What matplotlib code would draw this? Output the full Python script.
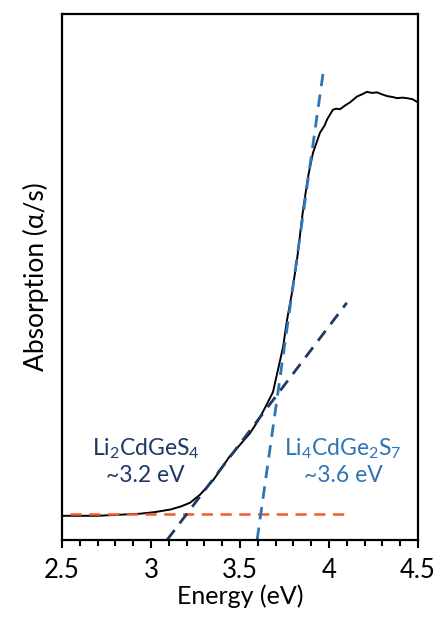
import matplotlib
matplotlib.use("Agg")
import matplotlib.pyplot as plt
import numpy as np

# Measured absorption curve (energy in eV, absorption in arbitrary units)
energy = [2.50, 2.70, 2.94, 3.02, 3.11, 3.17, 3.22, 3.275, 3.35, 3.44,
          3.50, 3.556, 3.60, 3.64, 3.685, 3.713, 3.742, 3.764, 3.792, 3.82,
          3.854, 3.882, 3.91, 3.949, 3.975, 3.99, 4.022, 4.04, 4.062, 4.09,
          4.118, 4.157, 4.19, 4.213, 4.24, 4.27, 4.30, 4.326, 4.36, 4.382,
          4.41, 4.438, 4.47, 4.494, 4.50]
absorption = [0.046, 0.046, 0.050, 0.053, 0.058, 0.064, 0.071, 0.086, 0.114, 0.158,
              0.181, 0.203, 0.226, 0.251, 0.281, 0.323, 0.367, 0.418, 0.470, 0.532,
              0.627, 0.690, 0.736, 0.774, 0.788, 0.800, 0.818, 0.820, 0.819, 0.826,
              0.832, 0.843, 0.848, 0.852, 0.850, 0.851, 0.847, 0.844, 0.842, 0.840,
              0.841, 0.840, 0.838, 0.833, 0.833]

# Linear extrapolations
baseline_x = [2.545, 4.12]
baseline_y = [0.049, 0.049]
fit1_x = [3.09, 4.10]          # Li2CdGeS4
fit1_y = [0.0, 0.451]
fit2_x = [3.596, 3.966]        # Li4CdGe2S7
fit2_y = [0.0, 0.886]

labels = ["Li$_2$CdGeS$_4$\n~3.2 eV", "Li$_4$CdGe$_2$S$_7$\n~3.6 eV"]
label_x = [2.97, 4.08]

plt.rcParams["font.family"] = ["Lato", "DejaVu Sans"]
plt.rcParams["mathtext.fontset"] = "custom"
plt.rcParams["mathtext.rm"] = "Lato"
plt.rcParams["mathtext.it"] = "Lato:italic"

fig = plt.figure(figsize=(4.38, 6.19), dpi=100)
ax = fig.add_axes([62 / 438, 1 - 540 / 619, 356 / 438, 526 / 619])

ax.plot(energy, absorption, color="black", lw=1.4)
ax.plot(baseline_x, baseline_y, color="#F4592E", lw=1.8, dashes=(4.5, 3))
ax.plot(fit1_x, fit1_y, color="#1F3864", lw=2.0, dashes=(4.5, 3))
ax.plot(fit2_x, fit2_y, color="#2E75B6", lw=2.0, dashes=(4.5, 3))

ax.text(label_x[0], 0.15, labels[0], color="#1F3864", fontsize=16.5,
        ha="center", va="center", linespacing=1.25)
ax.text(label_x[1], 0.15, labels[1], color="#2E75B6", fontsize=16.5,
        ha="center", va="center", linespacing=1.25)

ax.set_xlim(2.5, 4.5)
ax.set_ylim(0, 1)
ax.set_xticks([2.5, 3, 3.5, 4, 4.5])
ax.set_xticklabels(["2.5", "3", "3.5", "4", "4.5"])
ax.set_xticks(np.arange(2.5, 4.51, 0.1), minor=True)
ax.set_yticks([])
ax.tick_params(axis="x", which="major", direction="out", length=6, width=1.5,
               labelsize=18.5, pad=7)
ax.tick_params(axis="x", which="minor", direction="out", length=4, width=1.5)
for s in ax.spines.values():
    s.set_linewidth(1.6)

ax.set_xlabel("Energy (eV)", fontsize=18, labelpad=1)
ax.set_ylabel("Absorption (α/s)", fontsize=19, labelpad=9)

fig.savefig("out.png", dpi=100)
